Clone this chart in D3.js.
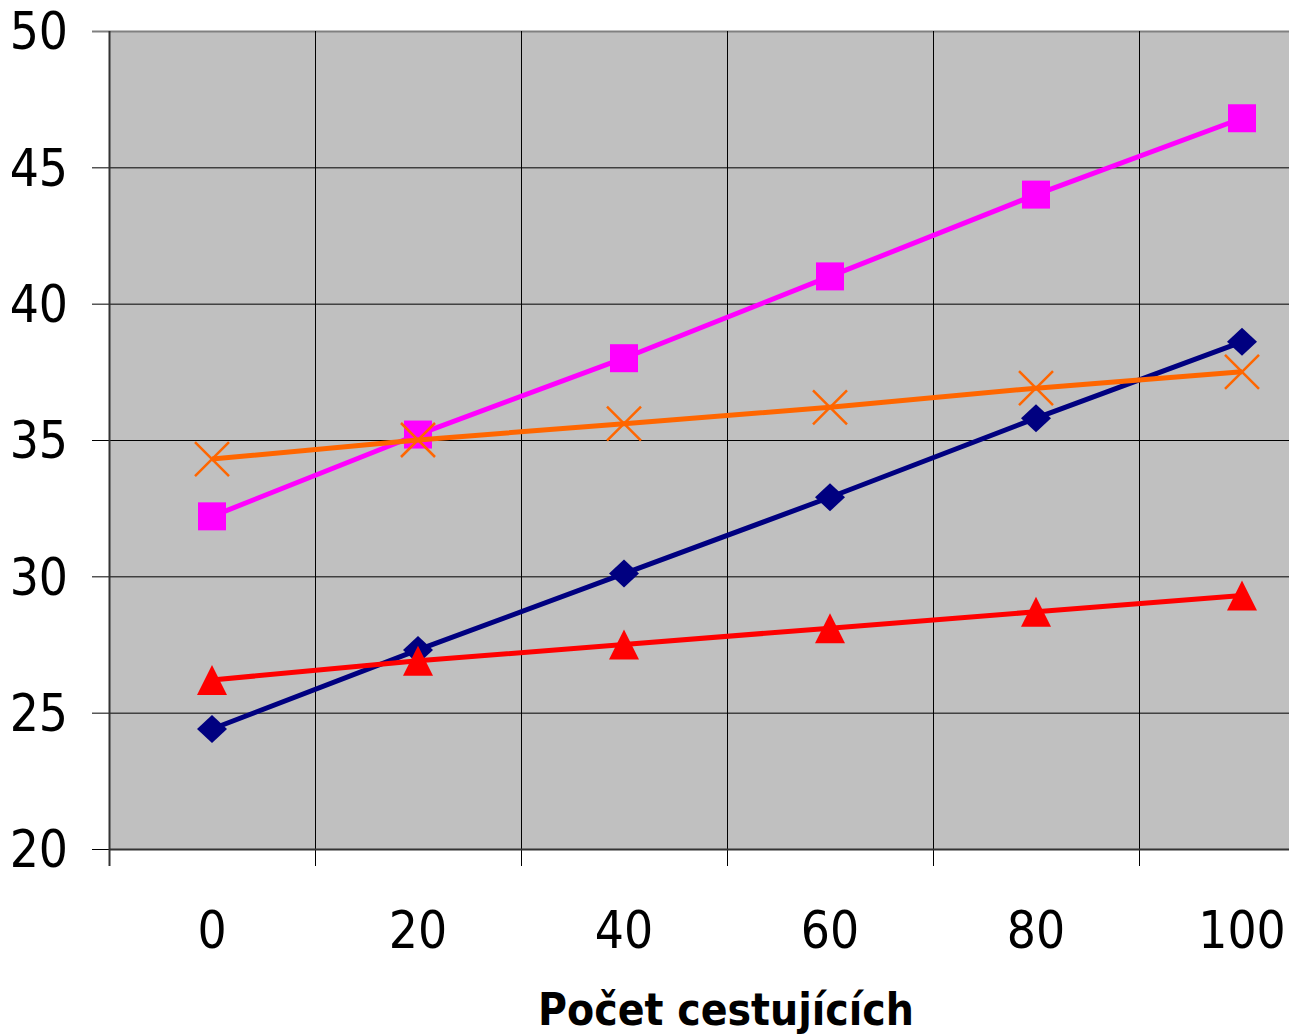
<!DOCTYPE html>
<html>
<head>
<meta charset="utf-8">
<script src="https://cdn.jsdelivr.net/npm/d3@7"></script>
<style>
  body { margin: 0; background: #fff; }
  text { font-family: "DejaVu Sans Condensed", "DejaVu Sans", sans-serif; }
</style>
</head>
<body>
<script>
var categories = ['0', '20', '40', '60', '80', '100'];
var yTicks = [20, 25, 30, 35, 40, 45, 50];

// series in drawing order
var navy = [24.4, 27.3, 30.1, 32.9, 35.8, 38.6];
var magenta = [32.2, 35.2, 38.0, 41.0, 44.0, 46.8];
var red = [26.2, 26.9, 27.5, 28.1, 28.7, 29.3];
var orange = [34.3, 35.0, 35.6, 36.2, 36.9, 37.5];

var width = 1289;
var height = 1036;

var svg = d3.select('body')
  .append('svg')
  .attr('width', width)
  .attr('height', height);

var plotLeft = 109, plotTop = 31, plotBottom = 849;
var band = 206;

var x = d3.scaleBand()
  .domain(categories)
  .range([plotLeft, plotLeft + band * categories.length]);

var y = d3.scaleLinear()
  .domain([20, 50])
  .range([plotBottom, plotTop]);

// plot background
svg.append('rect')
  .attr('x', plotLeft)
  .attr('y', plotTop)
  .attr('width', band * categories.length)
  .attr('height', plotBottom - plotTop)
  .attr('fill', '#c0c0c0');

// horizontal gridlines
svg.append('g')
  .selectAll('line')
  .data(yTicks.slice(1))
  .enter()
  .append('line')
  .attr('x1', plotLeft - 17)
  .attr('x2', plotLeft + band * categories.length)
  .attr('y1', d => y(d) + 0.5)
  .attr('y2', d => y(d) + 0.5)
  .attr('stroke', d => d == 50 ? '#808080' : '#000')
  .attr('stroke-width', d => d == 50 ? 2 : 1);

// tick for 20
svg.append('line')
  .attr('x1', plotLeft - 17).attr('x2', plotLeft)
  .attr('y1', y(20) + 0.5).attr('y2', y(20) + 0.5)
  .attr('stroke', '#000');

// vertical gridlines at band edges
svg.append('g')
  .selectAll('line')
  .data(categories.slice(1))
  .enter()
  .append('line')
  .attr('x1', d => x(d) + 0.5)
  .attr('x2', d => x(d) + 0.5)
  .attr('y1', plotTop)
  .attr('y2', plotBottom + 17)
  .attr('stroke', '#000');

// axes lines
svg.append('line')
  .attr('x1', plotLeft + 0.5).attr('x2', plotLeft + 0.5)
  .attr('y1', plotTop).attr('y2', plotBottom + 17)
  .attr('stroke', '#333').attr('stroke-width', 2);
svg.append('line')
  .attr('x1', plotLeft).attr('x2', plotLeft + band * categories.length)
  .attr('y1', plotBottom + 0.5).attr('y2', plotBottom + 0.5)
  .attr('stroke', '#333').attr('stroke-width', 2);

// y tick labels
svg.append('g')
  .selectAll('text')
  .data(yTicks)
  .enter()
  .append('text')
  .attr('x', 68)
  .attr('y', d => y(d))
  .attr('dy', '0.36em')
  .attr('text-anchor', 'end')
  .attr('font-size', 51)
  .text(d => d);

// x tick labels
svg.append('g')
  .selectAll('text')
  .data(categories)
  .enter()
  .append('text')
  .attr('x', d => x(d) + x.bandwidth() / 2)
  .attr('y', 948)
  .attr('text-anchor', 'middle')
  .attr('font-size', 51)
  .text(d => d);

// axis title
svg.append('text')
  .attr('x', 726)
  .attr('y', 1025)
  .attr('text-anchor', 'middle')
  .attr('font-size', 44)
  .attr('font-weight', 'bold')
  .text('Počet cestujících');

var cx = d => x(d) + x.bandwidth() / 2;
var line = d3.line()
  .x((d, i) => cx(categories[i]))
  .y(d => y(d));

// marker shapes, centred on the point
var markers = {
  diamond: 'M0,-14L15,0L0,14L-15,0Z',
  square: 'M-14,-14H14V14H-14Z',
  triangle: 'M0,-15L15,15H-15Z'
};

function drawSeries(values, color, marker) {
  var g = svg.append('g');
  g.append('path')
    .attr('d', line(values))
    .attr('fill', 'none')
    .attr('stroke', color)
    .attr('stroke-width', 5);
  values.forEach(function(v, i) {
    var px = cx(categories[i]), py = y(v);
    if (marker == 'x') {
      g.append('path')
        .attr('d', 'M-17,-17L17,17M-17,17L17,-17')
        .attr('transform', 'translate(' + px + ',' + py + ')')
        .attr('stroke', color)
        .attr('stroke-width', 2.5)
        .attr('fill', 'none');
    } else {
      g.append('path')
        .attr('d', markers[marker])
        .attr('transform', 'translate(' + px + ',' + py + ')')
        .attr('fill', color);
    }
  });
}

drawSeries(navy, '#000080', 'diamond');
drawSeries(magenta, '#ff00ff', 'square');
drawSeries(red, '#ff0000', 'triangle');
drawSeries(orange, '#ff6600', 'x');
</script>
</body>
</html>
